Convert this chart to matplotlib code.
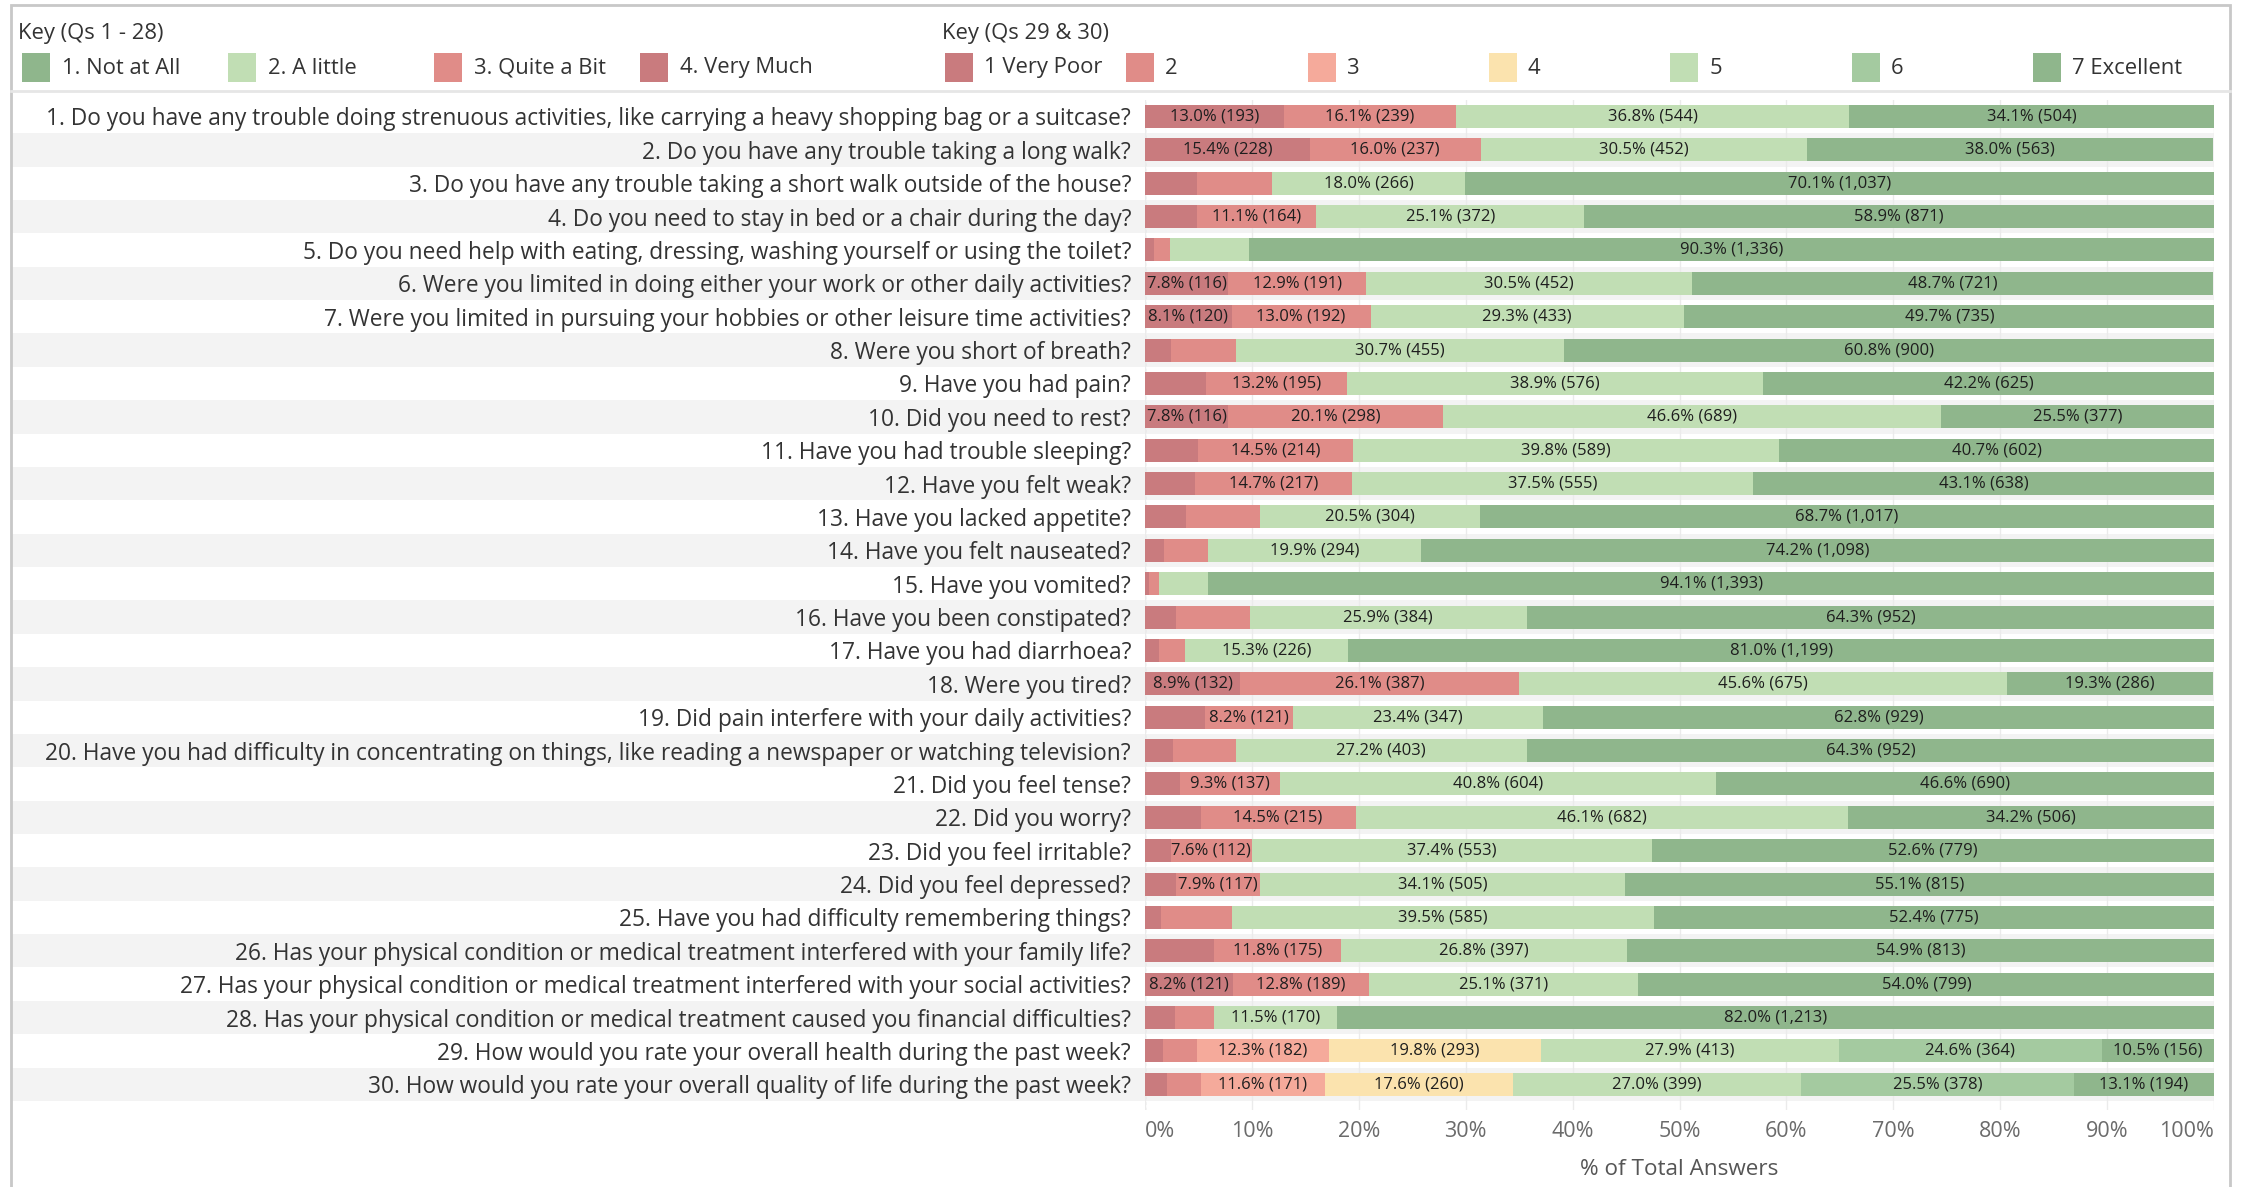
import numpy as np
import matplotlib.pyplot as plt
from matplotlib.patches import Rectangle

plt.rcParams['font.family'] = ['Open Sans', 'DejaVu Sans']

questions = [
    "1. Do you have any trouble doing strenuous activities, like carrying a heavy shopping bag or a suitcase?",
    "2. Do you have any trouble taking a long walk?",
    "3. Do you have any trouble taking a short walk outside of the house?",
    "4. Do you need to stay in bed or a chair during the day?",
    "5. Do you need help with eating, dressing, washing yourself or using the toilet?",
    "6. Were you limited in doing either your work or other daily activities?",
    "7. Were you limited in pursuing your hobbies or other leisure time activities?",
    "8. Were you short of breath?",
    "9. Have you had pain?",
    "10. Did you need to rest?",
    "11. Have you had trouble sleeping?",
    "12. Have you felt weak?",
    "13. Have you lacked appetite?",
    "14. Have you felt nauseated?",
    "15. Have you vomited?",
    "16. Have you been constipated?",
    "17. Have you had diarrhoea?",
    "18. Were you tired?",
    "19. Did pain interfere with your daily activities?",
    "20. Have you had difficulty in concentrating on things, like reading a newspaper or watching television?",
    "21. Did you feel tense?",
    "22. Did you worry?",
    "23. Did you feel irritable?",
    "24. Did you feel depressed?",
    "25. Have you had difficulty remembering things?",
    "26. Has your physical condition or medical treatment interfered with your family life?",
    "27. Has your physical condition or medical treatment interfered with your social activities?",
    "28. Has your physical condition or medical treatment caused you financial difficulties?",
    "29. How would you rate your overall health during the past week?",
    "30. How would you rate your overall quality of life during the past week?",
]

# Qs 1-28, % of answers (left to right: Very Much, Quite a Bit, A little, Not at All)
very_much = [13.0, 15.4, 4.9, 4.9, 0.8, 7.8, 8.1, 2.4, 5.7, 7.8, 5.0, 4.7, 3.8, 1.8,
             0.4, 2.9, 1.3, 8.9, 5.6, 2.6, 3.3, 5.2, 2.4, 2.9, 1.5, 6.5, 8.2, 2.8]
quite_a_bit = [16.1, 16.0, 7.0, 11.1, 1.5, 12.9, 13.0, 6.1, 13.2, 20.1, 14.5, 14.7, 7.0, 4.1,
               0.9, 6.9, 2.4, 26.1, 8.2, 5.9, 9.3, 14.5, 7.6, 7.9, 6.6, 11.8, 12.8, 3.7]
a_little = [36.8, 30.5, 18.0, 25.1, 7.4, 30.5, 29.3, 30.7, 38.9, 46.6, 39.8, 37.5, 20.5, 19.9,
            4.6, 25.9, 15.3, 45.6, 23.4, 27.2, 40.8, 46.1, 37.4, 34.1, 39.5, 26.8, 25.1, 11.5]
not_at_all = [34.1, 38.0, 70.1, 58.9, 90.3, 48.7, 49.7, 60.8, 42.2, 25.5, 40.7, 43.1, 68.7, 74.2,
              94.1, 64.3, 81.0, 19.3, 62.8, 64.3, 46.6, 34.2, 52.6, 55.1, 52.4, 54.9, 54.0, 82.0]

# answer counts shown in the labels (None = segment not labelled)
very_much_n = [193, 228, None, None, None, 116, 120, None, None, 116, None, None, None, None,
               None, None, None, 132, None, None, None, None, None, None, None, None, 121, None]
quite_a_bit_n = [239, 237, None, 164, None, 191, 192, None, 195, 298, 214, 217, None, None,
                 None, None, None, 387, 121, None, 137, 215, 112, 117, None, 175, 189, None]
a_little_n = [544, 452, 266, 372, None, 452, 433, 455, 576, 689, 589, 555, 304, 294,
              None, 384, 226, 675, 347, 403, 604, 682, 553, 505, 585, 397, 371, 170]
not_at_all_n = [504, 563, 1037, 871, 1336, 721, 735, 900, 625, 377, 602, 638, 1017, 1098,
                1393, 952, 1199, 286, 929, 952, 690, 506, 779, 815, 775, 813, 799, 1213]

# Qs 29 & 30, ratings 1 (Very Poor) .. 7 (Excellent)
q29_pct = [1.7, 3.2, 12.3, 19.8, 27.9, 24.6, 10.5]
q29_n = [None, None, 182, 293, 413, 364, 156]
q30_pct = [2.1, 3.1, 11.6, 17.6, 27.0, 25.5, 13.1]
q30_n = [None, None, 171, 260, 399, 378, 194]

key1_labels = ["1. Not at All", "2. A little", "3. Quite a Bit", "4. Very Much"]
key2_labels = ["1 Very Poor", "2", "3", "4", "5", "6", "7 Excellent"]

c_vm = "#C97B7E"
c_qb = "#E08C88"
c_3 = "#F5AA9B"
c_4 = "#FBE3AE"
c_al = "#C1DEB4"
c_6 = "#A4CAA0"
c_na = "#8FB68C"
key1_colors = [c_na, c_al, c_qb, c_vm]
rating_colors = [c_vm, c_qb, c_3, c_4, c_al, c_6, c_na]

W, H = 2244, 1187
def fx(px):
    return px / W
def fy(py):
    return 1 - py / H

fig = plt.figure(figsize=(W / 100, H / 100), dpi=100)
x0, x1, y0, y1 = 1145, 2214, 99.8, 1110
ax = fig.add_axes([fx(x0), fy(y1), fx(x1) - fx(x0), (y1 - y0) / H])
ax.patch.set_alpha(0)

def seg_label(x, y, p, n):
    if n is not None:
        ax.text(x, y, "{:.1f}% ({:,})".format(p, n), ha="center", va="center",
                fontsize=12, color="#1E1E1E", zorder=4)

nq = len(questions)
rows = np.arange(nq)
bh = 0.69

left = np.zeros(28)
for vals, counts, col in [(very_much, very_much_n, c_vm), (quite_a_bit, quite_a_bit_n, c_qb),
                          (a_little, a_little_n, c_al), (not_at_all, not_at_all_n, c_na)]:
    vals = np.array(vals)
    ax.barh(rows[:28], vals, left=left, height=bh, color=col, zorder=2)
    for i in range(28):
        seg_label(left[i] + vals[i] / 2, i, vals[i], counts[i])
    left += vals

for r, pct, cnt in [(28, q29_pct, q29_n), (29, q30_pct, q30_n)]:
    l = 0
    for j in range(7):
        ax.barh(r, pct[j], left=l, height=bh, color=rating_colors[j], zorder=2)
        seg_label(l + pct[j] / 2, r, pct[j], cnt[j])
        l += pct[j]

# alternating row bands across labels and bars
px_per_unit = (x1 - x0) / 100
band_left = -(x0 - 12) / px_per_unit
for i in range(1, nq, 2):
    ax.add_patch(Rectangle((band_left, i - 0.5), 100 - band_left, 1, color="#F3F3F3",
                           lw=0, zorder=0, clip_on=False))

ax.set_xlim(0, 100)
ax.set_ylim(nq - 0.5 + 0.27, -0.5)
ax.set_xticks(range(0, 101, 10))
ax.set_xticklabels(["{}%".format(t) for t in range(0, 101, 10)], fontsize=15.5, color="#6B6B6B")
tl = ax.get_xticklabels()
tl[0].set_ha("left")
tl[-1].set_ha("right")
ax.set_yticks(rows)
ax.set_yticklabels(questions, fontsize=16.4, color="#333333")
ax.tick_params(axis="both", length=0)
ax.tick_params(axis="x", pad=8)
ax.tick_params(axis="y", pad=10)
ax.grid(axis="x", color="#EBEBEB", lw=1, zorder=1)
ax.axvline(0, color="#D2D2D2", lw=1, ls=(0, (2, 2)), zorder=1)
for s in ax.spines.values():
    s.set_visible(False)
ax.set_xlabel("% of Total Answers", fontsize=16.2, color="#555555", labelpad=12)

# frame and legend area
fig.add_artist(Rectangle((fx(11), fy(H + 10)), fx(2230) - fx(11), (H + 5) / H, fill=False,
                         edgecolor="#C8C8C8", lw=2))
fig.add_artist(plt.Line2D([fx(11), fx(2230)], [fy(91), fy(91)], color="#E6E6E6", lw=2))

fig.text(fx(18), fy(33), "Key (Qs 1 - 28)", fontsize=15.8, color="#333333", va="center")
fig.text(fx(942), fy(33), "Key (Qs 29 & 30)", fontsize=15.8, color="#333333", va="center")
for k, (lab, col) in enumerate(zip(key1_labels, key1_colors)):
    sx = 22 + k * 206
    fig.add_artist(Rectangle((fx(sx), fy(82)), 28 / W, 29 / H, color=col, lw=0))
    fig.text(fx(sx + 40), fy(68), lab, fontsize=15.8, color="#333333", va="center")
for k, (lab, col) in enumerate(zip(key2_labels, rating_colors)):
    sx = 945 + k * 181.3
    fig.add_artist(Rectangle((fx(sx), fy(82)), 28 / W, 29 / H, color=col, lw=0))
    fig.text(fx(sx + 39), fy(68), lab, fontsize=15.8, color="#333333", va="center")

plt.savefig("out.png", dpi=100)
